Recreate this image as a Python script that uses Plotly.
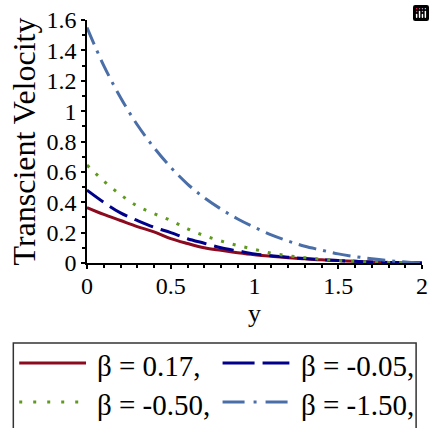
import plotly.graph_objects as go

# ---- data ----
y_pos = [0.0, 0.1, 0.2, 0.3, 0.4, 0.5, 0.6, 0.7, 0.8, 0.9, 1.0,
         1.1, 1.2, 1.3, 1.4, 1.5, 1.6, 1.7, 1.8, 1.9, 2.0]
v_beta_017 = [0.365, 0.32, 0.28, 0.24, 0.205, 0.16, 0.128, 0.10, 0.083, 0.068, 0.055,
              0.045, 0.035, 0.028, 0.021, 0.016, 0.011, 0.007, 0.004, 0.002, 0.0]
v_beta_m005 = [0.48, 0.40, 0.33, 0.28, 0.235, 0.20, 0.16, 0.13, 0.10, 0.08, 0.06,
               0.048, 0.038, 0.03, 0.022, 0.016, 0.011, 0.007, 0.004, 0.002, 0.0]
v_beta_m050 = [0.645, 0.54, 0.45, 0.375, 0.325, 0.28, 0.225, 0.18, 0.145, 0.115, 0.09,
               0.065, 0.048, 0.035, 0.025, 0.017, 0.011, 0.007, 0.004, 0.002, 0.0]
v_beta_m150 = [1.55, 1.30, 1.09, 0.91, 0.76, 0.63, 0.52, 0.43, 0.355, 0.29, 0.235,
               0.185, 0.145, 0.11, 0.085, 0.06, 0.042, 0.028, 0.016, 0.007, 0.0]
series_labels = ["β = 0.17,", "β = -0.05,", "β = -0.50,", "β = -1.50,"]
x_tickvals = [0, 0.5, 1, 1.5, 2]
x_ticktext = ["0", "0.5", "1", "1.5", "2"]
y_tickvals = [0, 0.2, 0.4, 0.6, 0.8, 1.0, 1.2, 1.4, 1.6]
y_ticktext = ["0", "0.2", "0.4", "0.6", "0.8", "1", "1.2", "1.4", "1.6"]

# ---- styles ----
colors = ["#8b0a1e", "#00008b", "#5f9a1e", "#4a6ea8"]
plot_dash = ["solid", "20px,8px", "3px,9px", "18px,7px,3px,7px"]
legend_dash = ["solid", "32px,8px", "3px,11px", "22px,9px,3px,9px"]
FONT = "Liberation Serif, Times New Roman, serif"

W_FIG, H_FIG = 435, 428
L, R, T, B = 87, 7, 20, 165
PW, PH = W_FIG - L - R, H_FIG - T - B


def px2x(px):
    return (px - L) / PW


def py2y(py):
    return (T + PH - py) / PH


fig = go.Figure()
for vals, c, d, name in zip([v_beta_017, v_beta_m005, v_beta_m050, v_beta_m150],
                            colors, plot_dash, series_labels):
    fig.add_trace(go.Scatter(x=y_pos, y=vals, mode="lines", name=name,
                             line=dict(color=c, width=3, dash=d, shape="spline"),
                             showlegend=False))

# custom legend (box, samples, labels)
shapes = [dict(type="rect", xref="paper", yref="paper",
               x0=px2x(12), x1=px2x(422), y0=py2y(343), y1=py2y(445),
               line=dict(color="#333333", width=1.5), fillcolor="rgba(0,0,0,0)")]
annotations = []
legend_slots = [(18, 86, 95, 363), (225, 293, 303, 363), (18, 86, 95, 402), (225, 293, 303, 402)]
for (sx0, sx1, tx, ry), c, d, name in zip(legend_slots, colors, legend_dash, series_labels):
    shapes.append(dict(type="line", xref="paper", yref="paper",
                       x0=px2x(sx0), x1=px2x(sx1), y0=py2y(ry), y1=py2y(ry),
                       line=dict(color=c, width=3, dash=d)))
    annotations.append(dict(text=name, xref="paper", yref="paper",
                            x=px2x(tx), y=py2y(ry + 3), xanchor="left", yanchor="middle",
                            showarrow=False, font=dict(family=FONT, size=29, color="black")))

fig.update_layout(
    width=W_FIG, height=H_FIG,
    margin=dict(l=L, r=R, t=T, b=B, pad=0),
    paper_bgcolor="white", plot_bgcolor="white",
    font=dict(family=FONT, color="black", size=24),
    shapes=shapes, annotations=annotations,
    modebar=dict(bgcolor="rgba(0,0,0,0)", color="rgba(0,0,0,0)", activecolor="rgba(0,0,0,0)"),
)
fig.update_xaxes(range=[0, 2], tickvals=x_tickvals, ticktext=x_ticktext,
                 showline=True, linecolor="black", linewidth=1.5,
                 ticks="outside", ticklen=4, tickcolor="black", tickwidth=1.5,
                 minor=dict(dtick=0.1, ticks="outside", ticklen=3, tickcolor="black", showgrid=False),
                 showgrid=False, zeroline=False, ticklabelstandoff=-4,
                 tickfont=dict(family=FONT, size=24),
                 title=dict(text="y", font=dict(family=FONT, size=26), standoff=6))
fig.update_yaxes(range=[0, 1.6], tickvals=y_tickvals, ticktext=y_ticktext,
                 showline=True, linecolor="black", linewidth=1.5,
                 ticks="outside", ticklen=4, tickcolor="black", tickwidth=1.5,
                 minor=dict(dtick=0.1, ticks="outside", ticklen=3, tickcolor="black", showgrid=False),
                 showgrid=False, zeroline=False,
                 tickfont=dict(family=FONT, size=24),
                 title=dict(text="Transcient Velocity", font=dict(family=FONT, size=32), standoff=1))

fig.write_html("out.html",
               post_script="document.body.style.margin='0';document.body.style.overflow='hidden';")
